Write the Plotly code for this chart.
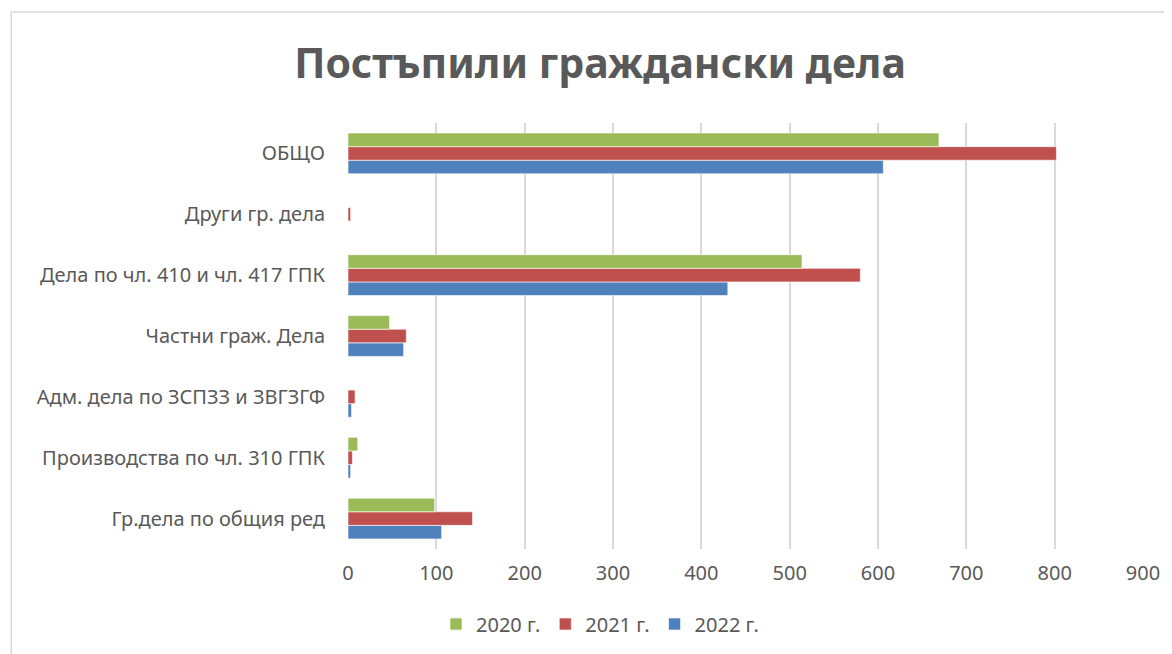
import plotly.graph_objects as go

categories = [
    "Гр.дела по общия ред",
    "Производства по чл. 310 ГПК",
    "Адм. дела по ЗСПЗЗ и ЗВГЗГФ",
    "Частни граж. Дела",
    "Дела по чл. 410 и чл. 417 ГПК",
    "Други гр. дела",
    "ОБЩО",
]
values_2020 = [98, 11, 0, 47, 514, 0, 669]
values_2021 = [141, 5, 8, 66, 580, 3, 802]
values_2022 = [106, 3, 4, 63, 430, 0, 606]
series_names = ["2020 г.", "2021 г.", "2022 г."]
colors = ["#9BBB59", "#C0504D", "#4F81BD"]
x_ticks = [0, 100, 200, 300, 400, 500, 600, 700, 800, 900]

# page body has an 8px margin; compensate so the figure lines up with the window
OFF = 8
W, H = 1172 - OFF, 654 - OFF
ml, mr, mt, mb = 348 - OFF, 34 - OFF, 123 - OFF, 113 - OFF
pw, ph = W - ml - mr, H - mt - mb

FONT = "Noto Sans"
GREY = "#595959"
FS = 20

fig = go.Figure()
# add in reverse so 2020 is on top within each group
for name, vals, col in reversed(list(zip(series_names, [values_2020, values_2021, values_2022], colors))):
    fig.add_trace(go.Bar(
        y=categories, x=vals, name=name, orientation="h",
        marker=dict(color=col, line=dict(color="rgba(255,255,255,0.6)", width=1)),
    ))

def px_x(x):
    return (x - OFF - ml) / pw

def px_y(y):
    return 1 - (y - OFF - mt) / ph

fig.update_layout(
    width=W, height=H,
    margin=dict(l=ml, r=mr, t=mt, b=mb),
    paper_bgcolor="white", plot_bgcolor="white",
    barmode="group", bargap=0.33, bargroupgap=0,
    font=dict(family=FONT, color=GREY, size=FS),
    title=dict(text="<b>Постъпили граждански дела</b>", x=0.5 + (600 - 586 - OFF / 2) / W, xref="container",
               xanchor="center", y=1 - (64 - OFF) / H, yref="container", yanchor="middle",
               font=dict(family=FONT, size=41, color=GREY)),
    xaxis=dict(range=[0, 900], tickvals=x_ticks, showgrid=True, gridcolor="#D9D9D9", gridwidth=1.5,
               zeroline=False, showline=False, ticks="", tickfont=dict(size=FS, color=GREY), ticklabelstandoff=10),
    yaxis=dict(type="category", categoryorder="array", categoryarray=categories, showgrid=False,
               zeroline=False, showline=False, ticks="", ticklabelstandoff=22, tickfont=dict(size=FS, color=GREY)),
    legend=dict(orientation="h", x=0.5 + (600 - 586 - OFF / 2) / W, xref="container", xanchor="center",
                y=1 - (624 - OFF) / H, yref="container",
                yanchor="middle", traceorder="reversed", font=dict(size=FS, color=GREY),
                itemwidth=30),
    shapes=[dict(type="rect", xref="paper", yref="paper",
                 x0=px_x(10), x1=px_x(1250), y0=px_y(700), y1=px_y(12),
                 line=dict(color="#D9D9D9", width=1.5), fillcolor="rgba(0,0,0,0)", layer="below")],
)

fig.write_html("out.html")
